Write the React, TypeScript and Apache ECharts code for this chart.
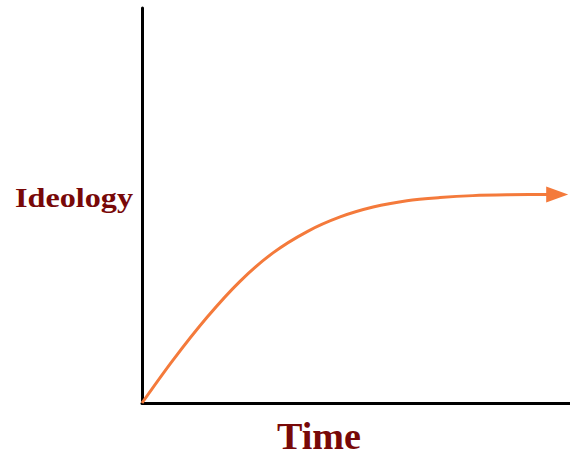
import React, { useEffect, useRef } from "react";
import * as echarts from "echarts";

const timeValues: number[] = [0, 7.2, 15.2, 22.9, 30.6, 38.6, 46.3, 54.0, 61.9, 69.6, 77.3, 85.3, 97.0];
const ideologyValues: number[] = [0, 10.8, 21.7, 30.8, 38.0, 43.4, 47.1, 49.6, 51.2, 52.0, 52.5, 52.7, 52.8];
const xAxisName = "Time";
const yAxisName = "Ideology";

export default function App() {
  const ref = useRef<HTMLDivElement>(null);
  useEffect(() => {
    document.body.style.margin = "0";
    const chart = echarts.init(ref.current!, null, { renderer: "svg" });
    const n = timeValues.length;
    const data = timeValues.map((t, i) =>
      i === n - 1
        ? {
            value: [t, ideologyValues[i]],
            symbol: "triangle",
            symbolSize: [16, 22],
            symbolRotate: -90,
          }
        : { value: [t, ideologyValues[i]], symbol: "none" }
    );
    chart.setOption({
      animation: false,
      backgroundColor: "#ffffff",
      grid: { left: 142, top: 8, width: 428, height: 395 },
      xAxis: {
        type: "value",
        min: 0,
        max: 100,
        axisLine: { show: true, onZero: false, lineStyle: { color: "#000", width: 3 } },
        axisTick: { show: false },
        axisLabel: { show: false },
        splitLine: { show: false },
      },
      yAxis: {
        type: "value",
        min: 0,
        max: 100,
        axisLine: { show: true, onZero: false, lineStyle: { color: "#000", width: 3 } },
        axisTick: { show: false },
        axisLabel: { show: false },
        splitLine: { show: false },
      },
      graphic: [
        {
          type: "text",
          x: 15,
          y: 198,
          scaleX: 1.15,
          style: {
            text: yAxisName,
            font: "bold 28px 'Liberation Serif', 'Times New Roman', serif",
            fill: "#780808",
            verticalAlign: "middle",
            lineHeight: 30,
          },
        },
        {
          type: "text",
          x: 277,
          y: 437,
          scaleX: 1.03,
          style: {
            text: xAxisName,
            font: "bold 37px 'Liberation Serif', 'Times New Roman', serif",
            fill: "#780808",
            verticalAlign: "middle",
            lineHeight: 36,
          },
        },
      ],
      series: [
        {
          type: "line",
          data,
          smooth: 0.3,
          showSymbol: true,
          lineStyle: { color: "#f47a3b", width: 3 },
          itemStyle: { color: "#f47a3b" },
          z: 1,
        },
      ],
    });
    return () => chart.dispose();
  }, []);
  return <div ref={ref} style={{ width: 570, height: 456 }} />;
}
